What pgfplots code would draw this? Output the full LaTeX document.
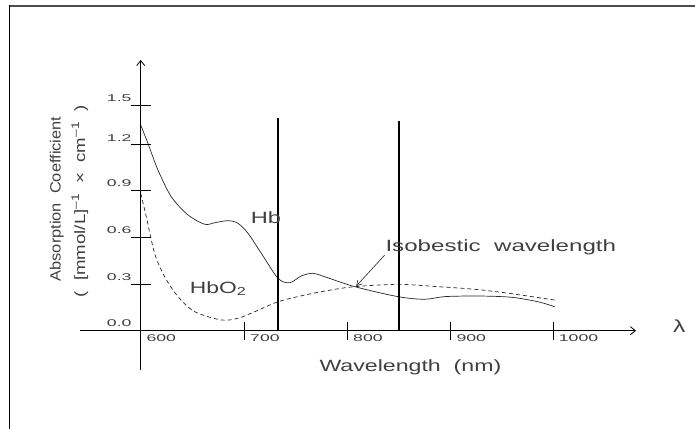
\documentclass[border=0pt]{standalone}
\usepackage{fontspec}
\setmainfont{Liberation Sans}
\usepackage{graphicx}
\usepackage{pgfplots}
\pgfplotsset{compat=1.18}
\usetikzlibrary{arrows.meta}
\newcommand\tl[1]{{\fontsize{9.8bp}{11bp}\selectfont\scalebox{1.8}[1]{#1}}}
\newcommand\bl[2]{{\fontsize{16.3bp}{18bp}\selectfont\scalebox{#1}[1]{#2}}}
\begin{document}
\begin{tikzpicture}
\begin{axis}[
  width=695bp, height=429bp, scale only axis,
  xmin=463.8, xmax=1136.6, ymin=-0.6317, ymax=2.1253,
  hide axis, clip=false,
]
% Hb (solid)
\addplot[smooth, black!85, line width=0.7bp] coordinates {
(600,1.322) (607,1.204) (616.7,1.033) (629.6,0.861) (645.8,0.744) (662,0.684)
(671.6,0.694) (684.5,0.707) (694.2,0.690) (703.9,0.626) (716.8,0.497) (732.9,0.337)
(744.2,0.308) (755.5,0.352) (766.8,0.369) (778.1,0.347) (807.2,0.283) (849,0.219)
(874.9,0.202) (894.3,0.219) (926.5,0.223) (958.8,0.215) (984.6,0.186) (1000.8,0.154)
};
% HbO2 (dashed)
\addplot[smooth, black!85, line width=0.7bp, dash pattern=on 4bp off 3bp] coordinates {
(600,0.883) (605.4,0.733) (613.5,0.497) (623.2,0.347) (636.1,0.219) (652.3,0.122)
(678,0.069) (694.2,0.080) (710.4,0.122) (732.9,0.186) (758.8,0.229) (784.5,0.262)
(807.2,0.283) (849,0.298) (887.8,0.283) (920,0.268) (952.4,0.244) (1000.8,0.197)
};
% vertical lines
\addplot[black, line width=1.8bp] coordinates {(732.9,0) (732.9,1.365)};
\addplot[black, line width=1.8bp] coordinates {(849.8,0) (849.8,1.35)};
% axes
\draw[line width=0.8bp, -{Straight Barb[length=5bp,width=8bp]}] (axis cs:541.2,0) -- (axis cs:1079.5,0);
\draw[line width=0.8bp, -{Straight Barb[length=5bp,width=8bp]}] (axis cs:600,-0.2526) -- (axis cs:600,1.7397);
% x ticks
\draw[line width=0.8bp] (axis cs:700,0.0559) -- (axis cs:700,-0.0598);
\draw[line width=0.8bp] (axis cs:800,0.0559) -- (axis cs:800,-0.0598);
\draw[line width=0.8bp] (axis cs:900,0.0559) -- (axis cs:900,-0.0598);
\draw[line width=0.8bp] (axis cs:1000,0.0559) -- (axis cs:1000,-0.0598);
% y ticks
\draw[line width=0.8bp] (axis cs:590.3,0.3) -- (axis cs:609.7,0.3);
\draw[line width=0.8bp] (axis cs:590.3,0.6) -- (axis cs:609.7,0.6);
\draw[line width=0.8bp] (axis cs:590.3,0.9) -- (axis cs:609.7,0.9);
\draw[line width=0.8bp] (axis cs:590.3,1.2) -- (axis cs:609.7,1.2);
\draw[line width=0.8bp] (axis cs:590.3,1.446) -- (axis cs:609.7,1.446);
% isobestic arrow
\draw[line width=0.6bp, black!85, -{Straight Barb[length=5bp,width=6bp]}] (axis cs:836.2,0.486) -- (axis cs:808.7,0.287);
\end{axis}
% frame
\draw[line width=1.6bp, black!70] (9bp,423bp) -- (695bp,423bp);
\draw[line width=1.3bp] (9.7bp,423.8bp) -- (9.7bp,0bp);
\begin{scope}[every node/.style={inner sep=0pt, text=black!75}]
% x tick labels
\node[anchor=base west] at (146.3bp,87.3bp) {\tl{600}};
\node[anchor=base west] at (250bp,87.3bp) {\tl{700}};
\node[anchor=base west] at (353bp,87.3bp) {\tl{800}};
\node[anchor=base west] at (456.3bp,87.3bp) {\tl{900}};
\node[anchor=base west] at (558.7bp,87.3bp) {\tl{1000}};
% y tick labels
\node[anchor=base east] at (131.7bp,102.3bp) {\tl{0.0}};
\node[anchor=base east] at (131.7bp,148.7bp) {\tl{0.3}};
\node[anchor=base east] at (131.7bp,195.3bp) {\tl{0.6}};
\node[anchor=base east] at (131.7bp,242bp) {\tl{0.9}};
\node[anchor=base east] at (131.7bp,287.5bp) {\tl{1.2}};
\node[anchor=base east] at (131.7bp,327.3bp) {\tl{1.5}};
% labels
\node[anchor=base west] at (250.7bp,205.7bp) {\bl{1.45}{Hb}};
\node[anchor=base west] at (189.7bp,135.7bp) {\bl{1.4}{HbO\raisebox{-2bp}{\fontsize{11.5bp}{12bp}\selectfont 2}}};
\node[anchor=base west] at (385.3bp,177.3bp) {\bl{1.48}{Isobestic\ \ wavelength}};
\node[anchor=base west] at (319.3bp,57.3bp) {\bl{1.42}{Wavelength\ \ (nm)}};
\node[anchor=base west] at (673bp,96bp) {{\fontsize{17.5bp}{18bp}\selectfont\scalebox{1.4}[1]{λ}}};
% y axis label
\node[anchor=base, rotate=90] at (60.7bp,230bp) {{\fontsize{14.9bp}{16bp}\selectfont\scalebox{1.1}[1]{Absorption\ \ Coefficient}}};
\node[anchor=base, rotate=90] at (85bp,227.5bp) {{\fontsize{14.9bp}{16bp}\selectfont\scalebox{1.25}[1]{(\ \ [mmol/L]\raisebox{6bp}{\fontsize{11bp}{12bp}\selectfont –1}\ \ ×\ \ cm\raisebox{6bp}{\fontsize{11bp}{12bp}\selectfont –1}\ \ )}}};
\end{scope}
\pgfresetboundingbox
\useasboundingbox (0,0) rectangle (695bp,429bp);
\end{tikzpicture}
\end{document}
